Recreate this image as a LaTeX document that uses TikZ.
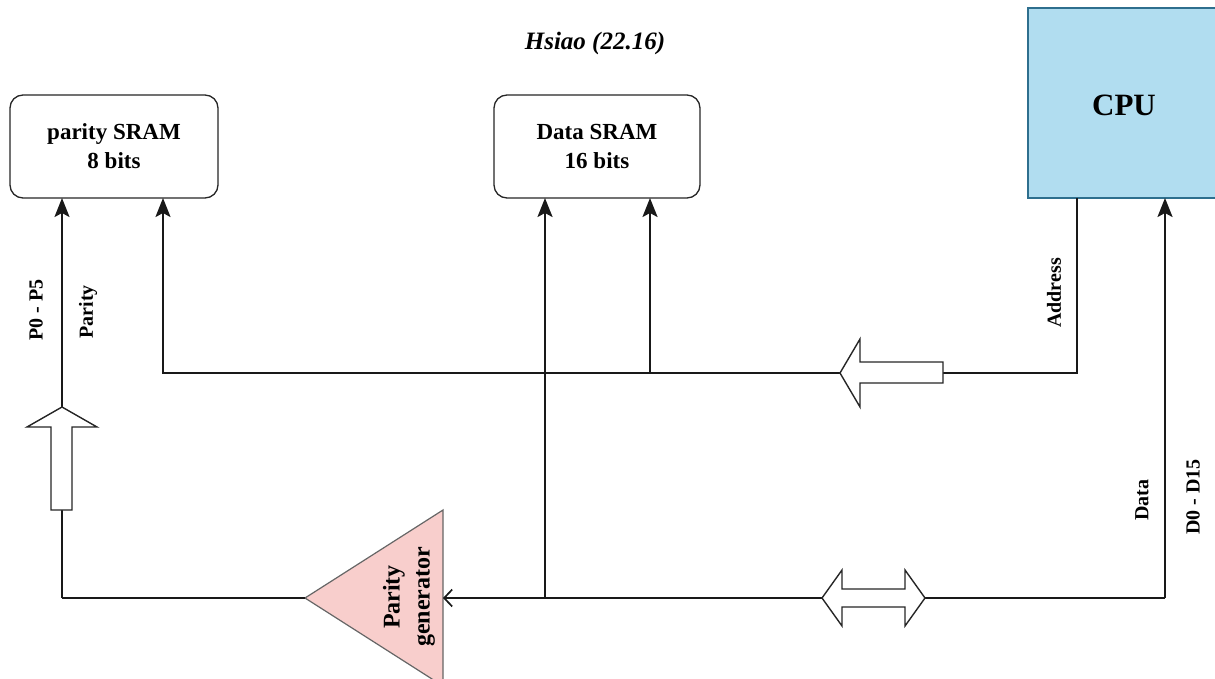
\documentclass[tikz,border=0pt]{standalone}
\usepackage{fontspec}
\setmainfont{Liberation Serif}
\usetikzlibrary{arrows.meta}
\definecolor{cpufill}{HTML}{B1DDF0}
\definecolor{cpuline}{HTML}{2E6F8E}
\definecolor{genfill}{HTML}{F8CECC}
\begin{document}
\begin{tikzpicture}[x=1pt,y=-1pt,
  txt/.style={font=\fontsize{24}{30}\selectfont\bfseries, align=center, inner sep=0pt},
  box/.style={draw=black!85, line width=1.3pt, rounded corners=13pt, fill=white, align=center,
              font=\fontsize{23}{29}\selectfont\bfseries, inner sep=0pt},
  wire/.style={line width=2.4pt, draw=black!90},
  tip/.style={-{Stealth[length=19pt,width=15pt,inset=4pt]}},
  hollow/.style={draw=black!85, line width=1.4pt, fill=white},
  vlabel/.style={font=\fontsize{20}{24}\selectfont\bfseries, rotate=90, inner sep=0pt}
]
\useasboundingbox (0,0) rectangle (1215,679);

% title
\node[font=\fontsize{25}{28}\selectfont\bfseries\itshape, inner sep=0pt] (title) at (595,43) {Hsiao (22.16)};

% blocks
\node[box, minimum width=208pt, minimum height=103pt] (psram) at (114,146.5) {parity SRAM\\8 bits};
\node[box, minimum width=206pt, minimum height=103pt] (dsram) at (597,146.5) {Data SRAM\\16 bits};
\node[draw=cpuline, line width=1.3pt, fill=cpufill, minimum width=190pt, minimum height=190pt,
      inner sep=0pt] (cpu) at (1123,103) {};
\node[font=\fontsize{31}{34}\selectfont\bfseries, inner sep=0pt] (cpulabel) at (1124,105) {CPU};

% parity generator triangle
\coordinate (gapex) at (305,598);
\coordinate (gin) at (443,598);
\draw[fill=genfill, draw=black!60, line width=1.2pt] (gapex) -- (443,510) -- (443,686) -- cycle;
\node[txt, rotate=90] (gen) at (409,597) {Parity\\generator};

% named junction coordinates
\coordinate (pc) at (62,598);
\coordinate (pa) at (62,198);
\coordinate (aa) at (163,198);
\coordinate (ab) at (163,373);
\coordinate (ad) at (650,373);
\coordinate (adtop) at (650,198);
\coordinate (ac) at (1077,373);
\coordinate (acpu) at (1077,198);
\coordinate (dd) at (545,598);
\coordinate (ddtop) at (545,198);
\coordinate (dc) at (1165,598);
\coordinate (dcpu) at (1165,198);

% parity path
\draw[wire] (gapex) -- (pc);
\draw[wire, tip] (pc) -- (pa);
% address bus
\draw[wire, tip] (acpu) -- (ac) -- (ab) -- (aa);
\draw[wire, tip] (ad) -- (adtop);
% data bus
\draw[wire, tip] (dc) -- (dcpu);
\draw[wire, -{Straight Barb[length=8pt,width=17pt,line width=1.7pt]}] (dc) -- (gin);
\draw[wire, tip] (dd) -- (ddtop);

% hollow bus arrows
\draw[hollow] (62,407) -- (97,427) -- (72,427) -- (72,510) -- (51,510) -- (51,427) -- (27,427) -- cycle;
\draw[hollow] (840,373) -- (860,339) -- (860,362) -- (943,362) -- (943,383) -- (860,383) -- (860,407) -- cycle;
\draw[hollow] (822,598) -- (842,570) -- (842,589) -- (905,589) -- (905,570) -- (925,598)
              -- (905,626) -- (905,607) -- (842,607) -- (842,626) -- cycle;

% labels
\node[vlabel] (lp05) at (36,310) {P0 - P5};
\node[vlabel] (lpar) at (88,312) {Parity};
\node[vlabel] (laddr) at (1054,293) {Address};
\node[vlabel] (ldata) at (1142,500) {Data};
\node[vlabel] (ld015) at (1193,497) {D0 - D15};
\end{tikzpicture}
\end{document}
